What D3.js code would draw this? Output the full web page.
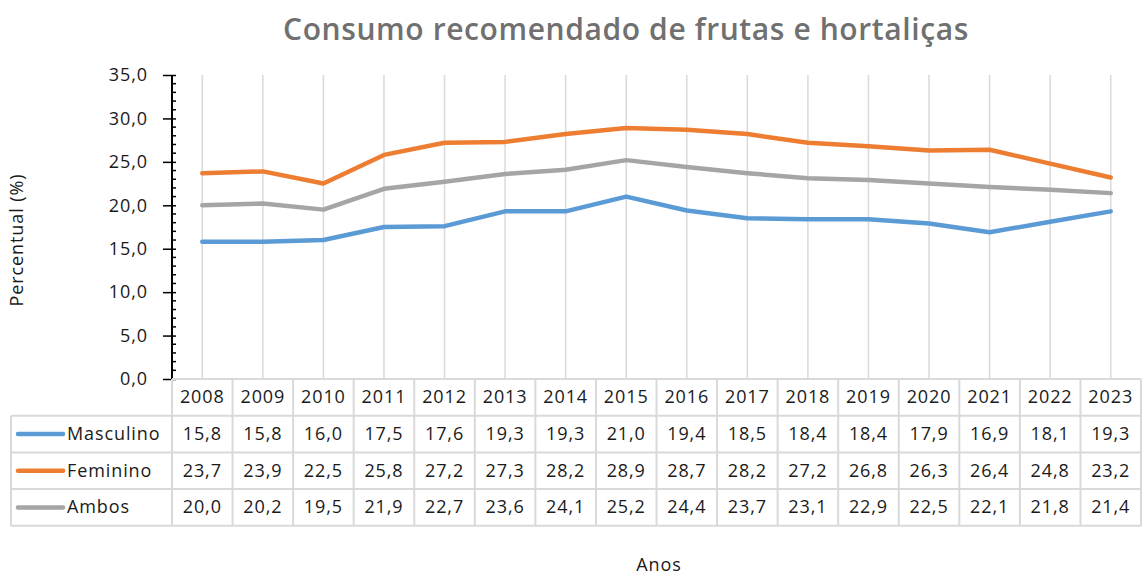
<!DOCTYPE html>
<html>
<head>
<meta charset="utf-8">
<script src="https://cdn.jsdelivr.net/npm/d3@7"></script>
<style>
  body { margin: 0; background: #fff; }
  text { font-family: "Open Sans", Lato, sans-serif; }
</style>
</head>
<body>
<div id="chart"></div>
<script>
// dados
var anos = ['2008','2009','2010','2011','2012','2013','2014','2015','2016','2017','2018','2019','2020','2021','2022','2023'];
var masculino = [15.8, 15.8, 16.0, 17.5, 17.6, 19.3, 19.3, 21.0, 19.4, 18.5, 18.4, 18.4, 17.9, 16.9, 18.1, 19.3];
var feminino  = [23.7, 23.9, 22.5, 25.8, 27.2, 27.3, 28.2, 28.9, 28.7, 28.2, 27.2, 26.8, 26.3, 26.4, 24.8, 23.2];
var ambos     = [20.0, 20.2, 19.5, 21.9, 22.7, 23.6, 24.1, 25.2, 24.4, 23.7, 23.1, 22.9, 22.5, 22.1, 21.8, 21.4];
var yTicks = [0, 5, 10, 15, 20, 25, 30, 35];

var series = [
  {nome: 'Masculino', valores: masculino, cor: '#5b9bd5'},
  {nome: 'Feminino', valores: feminino, cor: '#ed7d31'},
  {nome: 'Ambos', valores: ambos, cor: '#a5a5a5'}
];

var W = 1142, H = 577;
var plotLeft = 172, plotRight = 1141, plotTop = 75, base = 379;
var rowH = 36.7, tableLeft = 11;
var fs = '18px', ls = '0.9px', ink = '#1a1a1a';

var svg = d3.select('#chart')
  .append('svg')
  .attr('width', W)
  .attr('height', H);

var x = d3.scaleBand().domain(anos).range([plotLeft, plotRight]);
var y = d3.scaleLinear().domain([0, 35]).range([base, plotTop]);
var fmt = function(v){ return d3.format('.1f')(v).replace('.', ','); };

function estilo(t){
  t.style('font-size', fs).style('letter-spacing', ls).style('fill', ink);
}

// titulo
svg.append('text')
  .attr('x', 626).attr('y', 40)
  .attr('text-anchor', 'middle')
  .style('font-size', '30px')
  .style('font-weight', 600)
  .style('letter-spacing', '0.6px')
  .style('fill', '#707070')
  .text('Consumo recomendado de frutas e hortaliças');

// linhas verticais de grade
svg.append('g').selectAll('line')
  .data(anos)
  .enter().append('line')
  .attr('x1', function(d){ return x(d) + x.bandwidth()/2; })
  .attr('x2', function(d){ return x(d) + x.bandwidth()/2; })
  .attr('y1', y(35)).attr('y2', base)
  .style('stroke', '#d9d9d9')
  .style('stroke-width', 1.5);

// eixo y
var minor = d3.range(0, 36, 1).filter(function(v){ return v % 5 != 0; });
svg.append('g').selectAll('line')
  .data(minor)
  .enter().append('line')
  .attr('x1', plotLeft).attr('x2', plotLeft + 4)
  .attr('y1', function(d){ return y(d); })
  .attr('y2', function(d){ return y(d); })
  .style('stroke', '#000').style('stroke-width', 1.5);

var yAxis = svg.append('g')
  .attr('transform', 'translate(' + plotLeft + ',0)')
  .call(d3.axisLeft(y).tickValues(yTicks).tickFormat(fmt).tickSize(9).tickPadding(15));
yAxis.select('.domain').attr('d', 'M0,' + y(35) + 'V' + base).style('stroke-width', 2);
yAxis.selectAll('.tick line').style('stroke-width', 1.5);
yAxis.selectAll('.tick line').attr('x2', -9).attr('x1', 4);
yAxis.selectAll('.tick text')
  .style('font-family', '"Open Sans", sans-serif')
  .call(estilo);

svg.append('text')
  .attr('transform', 'translate(23,' + 240 + ') rotate(-90)')
  .attr('text-anchor', 'middle')
  .call(estilo)
  .text('Percentual (%)');

// linhas
var line = d3.line()
  .x(function(d, i){ return x(anos[i]) + x.bandwidth()/2; })
  .y(function(d){ return y(d); });

svg.append('g').selectAll('path')
  .data(series)
  .enter().append('path')
  .attr('d', function(d){ return line(d.valores); })
  .style('fill', 'none')
  .style('stroke', function(d){ return d.cor; })
  .style('stroke-width', 4.5)
  .style('stroke-linecap', 'round')
  .style('stroke-linejoin', 'round');

// tabela
var tb = svg.append('g');
var grid = '#d9d9d9';
var tableBottom = base + rowH * 4;

d3.range(1, 5).forEach(function(r){
  tb.append('line')
    .attr('x1', tableLeft).attr('x2', plotRight)
    .attr('y1', base + rowH * r).attr('y2', base + rowH * r)
    .style('stroke', grid).style('stroke-width', 2);
});
anos.concat(['fim']).forEach(function(a, i){
  var xx = i < anos.length ? x(a) : plotRight;
  tb.append('line')
    .attr('x1', xx).attr('x2', xx)
    .attr('y1', base).attr('y2', tableBottom)
    .style('stroke', grid).style('stroke-width', 2);
});
tb.append('line').attr('x1', tableLeft).attr('x2', tableLeft)
  .attr('y1', base + rowH).attr('y2', tableBottom)
  .style('stroke', grid).style('stroke-width', 2);
svg.append('line').attr('x1', plotLeft).attr('x2', plotRight).attr('y1', base).attr('y2', base)
  .style('stroke', grid).style('stroke-width', 2);

// anos
tb.selectAll('.ano')
  .data(anos)
  .enter().append('text')
  .attr('class', 'ano')
  .attr('x', function(d){ return x(d) + x.bandwidth()/2; })
  .attr('y', base + rowH/2 + 6)
  .attr('text-anchor', 'middle')
  .call(estilo)
  .text(function(d){ return d; });

series.forEach(function(s, r){
  var cy = base + rowH * (r + 1) + rowH/2;
  tb.append('line')
    .attr('x1', 18).attr('x2', 63)
    .attr('y1', cy).attr('y2', cy)
    .style('stroke', s.cor).style('stroke-width', 4.5)
    .style('stroke-linecap', 'round');
  tb.append('text')
    .attr('x', 67).attr('y', cy + 6)
    .call(estilo)
    .text(s.nome);
  tb.selectAll('.v' + r)
    .data(s.valores)
    .enter().append('text')
    .attr('x', function(d, i){ return x(anos[i]) + x.bandwidth()/2; })
    .attr('y', cy + 6)
    .attr('text-anchor', 'middle')
    .call(estilo)
    .text(function(d){ return fmt(d); });
});

svg.append('text')
  .attr('x', 659).attr('y', 571)
  .attr('text-anchor', 'middle')
  .call(estilo)
  .text('Anos');
</script>
</body>
</html>
